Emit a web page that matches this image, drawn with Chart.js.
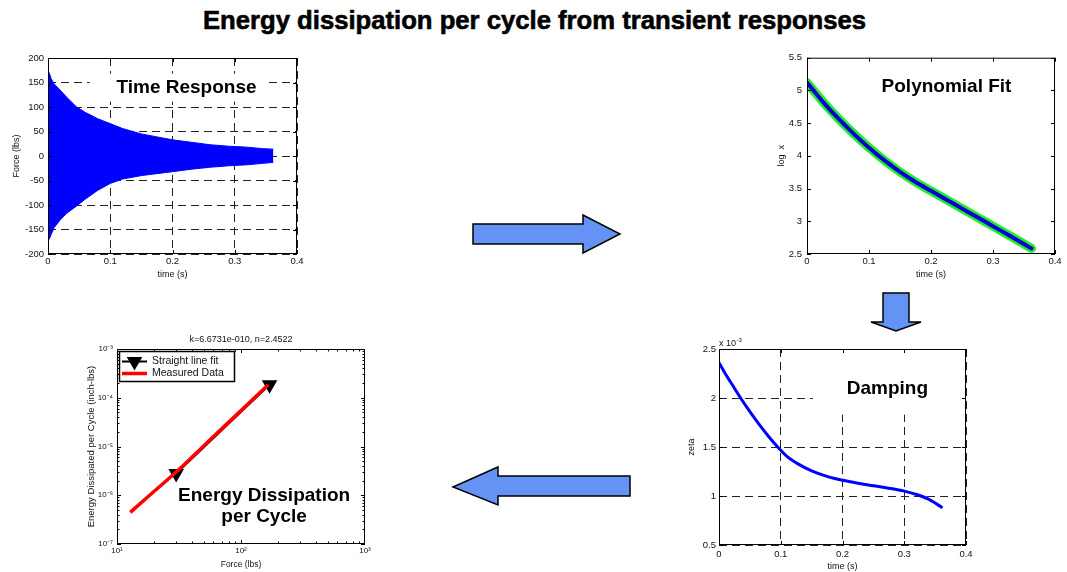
<!DOCTYPE html>
<html>
<head>
<meta charset="utf-8">
<script src="https://cdn.jsdelivr.net/npm/chart.js@4.4.1/dist/chart.umd.min.js"></script>
<style>
  html, body { margin: 0; padding: 0; background: #fff; }
  #page { position: relative; width: 1067px; height: 572px; overflow: hidden; font-family: 'Liberation Sans', Arial, sans-serif; }
  #title { position: absolute; left: 203px; top: 8px; white-space: nowrap; font-weight: bold; font-size: 25px; line-height: 25px; transform-origin: 0 0; color: #000; -webkit-text-stroke: 0.6px #000; }
  canvas { position: absolute; }
  svg { position: absolute; left: 0; top: 0; }
</style>
</head>
<body>
<div id="page">
  <svg width="1067" height="572">
    <g fill="#6593f5" stroke="#000" stroke-width="1.5" stroke-linejoin="miter">
      <polygon points="473,224 583,224 583,215 620,234 583,253 583,244 473,244"/>
      <polygon points="883,293 909,293 909,322 921,322 896,331 871,322 883,322"/>
      <polygon points="630,476 498,476 498,467 453,487 498,505 498,496 630,496"/>
    </g>
  </svg>
  <div id="title">Energy dissipation per cycle from transient responses</div>
  <canvas id="cResp"></canvas>
  <canvas id="cPoly"></canvas>
  <canvas id="cDamp"></canvas>
  <canvas id="cEnergy"></canvas>
</div>
<script>
// Time response envelope, force (lbs) vs time (s)
const respTime  = [0, 0.002, 0.005, 0.01, 0.02, 0.03, 0.045, 0.06, 0.08, 0.1, 0.12, 0.15, 0.175, 0.2, 0.23, 0.26, 0.29, 0.32, 0.345, 0.362];
const respUpper = [172, 170, 158, 147, 134, 120, 101, 89, 76, 66, 56, 45, 39, 33, 28, 23, 20, 18, 15, 14];
const respLower = [-172, -170, -160, -146, -130, -117, -103, -88, -70, -56, -47, -40, -36, -32, -27, -23, -20, -18, -15, -13];
const respTicksX = [0, 0.1, 0.2, 0.3, 0.4];
const respTicksY = [-200, -150, -100, -50, 0, 50, 100, 150, 200];

// Polynomial fit of log amplitude
const polyTime = [0, 0.01, 0.03, 0.05, 0.075, 0.1, 0.125, 0.15, 0.175, 0.2, 0.225, 0.25, 0.275, 0.3, 0.325, 0.345, 0.362];
const polyLogX = [5.12, 5.005, 4.78, 4.575, 4.34, 4.125, 3.93, 3.755, 3.6, 3.465, 3.33, 3.195, 3.06, 2.925, 2.79, 2.68, 2.585];
const polyTicksX = [0, 0.1, 0.2, 0.3, 0.4];
const polyTicksY = [2.5, 3, 3.5, 4, 4.5, 5, 5.5];

// Damping ratio, in units of 10^-3
const dampTime = [0, 0.01, 0.02, 0.035, 0.05, 0.065, 0.08, 0.095, 0.11, 0.13, 0.15, 0.175, 0.2, 0.225, 0.25, 0.275, 0.3, 0.32, 0.34, 0.362];
const dampZeta = [2.36, 2.25, 2.15, 2.0, 1.86, 1.73, 1.61, 1.5, 1.405, 1.32, 1.257, 1.2, 1.16, 1.13, 1.105, 1.08, 1.05, 1.015, 0.965, 0.88];
const dampTicksX = [0, 0.1, 0.2, 0.3, 0.4];
const dampTicksY = [0.5, 1, 1.5, 2, 2.5];

// Energy dissipated per cycle vs force amplitude (log-log)
const measForce  = [12.8, 17.5, 30, 60, 111, 166];
const measEnergy = [4.45e-7, 9.0e-7, 3.0e-6, 1.6e-5, 7.0e-5, 1.85e-4];
const fitForce   = [30, 170];
const fitEnergy  = [2.8e-6, 1.85e-4];
const forceTicks = [10, 100, 1000];
const forceTickLabels = ['10\u00B9', '10\u00B2', '10\u00B3'];
const energyTicks = [1e-7, 1e-6, 1e-5, 1e-4, 1e-3];
const energyTickLabels = ['10\u207B\u2077', '10\u207B\u2076', '10\u207B\u2075', '10\u207B\u2074', '10\u207B\u00B3'];
const energyTitle = 'k=6.6731e-010, n=2.4522';

const BLUE = '#0000ff';
const FONT = "'Liberation Sans', Arial, Helvetica, sans-serif";

// squeeze the heading to the width it has in the figure
const titleEl = document.getElementById('title');
titleEl.style.transform = 'scaleX(' + (663 / titleEl.scrollWidth) + ')';

function frame(id, plot, m) {
  const cv = document.getElementById(id);
  const w = m.yW + plot.w + m.right, h = m.top + plot.h + m.xH;
  cv.width = w; cv.height = h;
  cv.style.width = w + 'px'; cv.style.height = h + 'px';
  cv.style.left = (plot.x - m.yW) + 'px';
  cv.style.top = (plot.y - m.top) + 'px';
  return cv;
}

function xyData(xs, ys) {
  return xs.map((v, i) => ({ x: v, y: ys[i] }));
}

function axis(o) {
  return {
    type: o.type || 'linear',
    min: o.min, max: o.max,
    afterBuildTicks: s => { s.ticks = o.ticks.map(v => ({ value: v })); },
    afterFit: s => { if (s.isHorizontal()) s.height = o.size; else s.width = o.size; },
    grid: { display: !!o.grid, drawTicks: false, color: '#222', lineWidth: 1 },
    border: { display: false, dash: [8, 5] },
    ticks: {
      color: '#111', padding: o.pad, autoSkip: false, maxRotation: 0,
      font: { family: FONT, size: o.fontSize || 9.5 },
      callback: o.labels ? (v, i) => o.labels[i] : v => String(v)
    },
    title: { display: true, text: o.title, color: '#111', padding: 0, font: { family: FONT, size: o.titleSize || 9 } }
  };
}

function baseOptions(m, x, y) {
  return {
    responsive: false, animation: false, devicePixelRatio: 1,
    layout: { autoPadding: false, padding: { top: m.top, right: m.right, left: 0, bottom: 0 } },
    plugins: { legend: { display: false }, tooltip: { enabled: false } },
    scales: { x: axis(x), y: axis(y) }
  };
}

// MATLAB-looking box, inward ticks, white-backed labels
function axesPlugin(cfg) {
  return {
    id: 'matlabAxes',
    beforeDatasetsDraw(chart) {
      const { ctx, scales: { x, y } } = chart;
      ctx.save();
      ctx.fillStyle = '#fff';
      (cfg.masks || []).forEach(b => {
        const x0 = x.getPixelForValue(b.x0), x1 = x.getPixelForValue(b.x1);
        const y0 = y.getPixelForValue(b.y0), y1 = y.getPixelForValue(b.y1);
        ctx.fillRect(Math.min(x0, x1), Math.min(y0, y1), Math.abs(x1 - x0), Math.abs(y1 - y0));
      });
      ctx.fillStyle = '#000';
      ctx.font = 'bold 19px ' + FONT;
      ctx.textAlign = 'center';
      ctx.textBaseline = 'middle';
      (cfg.notes || []).forEach(n => {
        const cx = x.getPixelForValue(n.x), cy = y.getPixelForValue(n.y);
        n.lines.forEach((s, i) => ctx.fillText(s, cx, cy + (i - (n.lines.length - 1) / 2) * 21));
      });
      ctx.restore();
    },
    afterDatasetsDraw(chart) {
      const { ctx, chartArea: a, scales: { x, y } } = chart;
      const marks = sc => {
        const out = [];
        if (sc.type === 'logarithmic') {
          for (let d = Math.round(Math.log10(sc.min)); d < Math.round(Math.log10(sc.max)); d++) {
            for (let k = 1; k <= 9; k++) out.push({ p: sc.getPixelForValue(k * Math.pow(10, d)), len: k === 1 ? 4 : 2.5 });
          }
        } else {
          sc.ticks.forEach(t => out.push({ p: sc.getPixelForValue(t.value), len: 4 }));
        }
        return out;
      };
      ctx.save();
      ctx.strokeStyle = '#000';
      ctx.lineWidth = 1;
      ctx.beginPath();
      marks(x).forEach(t => {
        const p = Math.round(t.p) + 0.5;
        ctx.moveTo(p, a.bottom); ctx.lineTo(p, a.bottom - t.len);
        ctx.moveTo(p, a.top); ctx.lineTo(p, a.top + t.len);
      });
      marks(y).forEach(t => {
        const p = Math.round(t.p) + 0.5;
        ctx.moveTo(a.left, p); ctx.lineTo(a.left + t.len, p);
        ctx.moveTo(a.right, p); ctx.lineTo(a.right - t.len, p);
      });
      ctx.stroke();
      ctx.strokeRect(a.left + 0.5, a.top + 0.5, a.width - 1, a.height - 1);
      ctx.restore();
      if (cfg.extra) cfg.extra(chart);
    }
  };
}

// Time response
const respM = { yW: 37, xH: 26, top: 10, right: 12 };
new Chart(frame('cResp', { x: 48, y: 58, w: 249, h: 196 }, respM), {
  type: 'line',
  data: {
    datasets: [
      { label: 'upper', data: xyData(respTime, respUpper), borderColor: BLUE, backgroundColor: BLUE, borderWidth: 1, pointRadius: 0, fill: '+1' },
      { label: 'lower', data: xyData(respTime, respLower), borderColor: BLUE, backgroundColor: BLUE, borderWidth: 1, pointRadius: 0, fill: false }
    ]
  },
  options: baseOptions(respM,
    { min: 0, max: 0.4, ticks: respTicksX, size: respM.xH, pad: 2, grid: true, title: 'time (s)' },
    { min: -200, max: 200, ticks: respTicksY, size: respM.yW, pad: 4, grid: true, title: 'Force (lbs)' }),
  plugins: [axesPlugin({
    masks: [{ x0: 0.067, x1: 0.352, y0: 111, y1: 168 }],
    notes: [{ x: 0.2225, y: 140, lines: ['Time Response'] }]
  })]
});

// Polynomial fit
const polyM = { yW: 31, xH: 26, top: 10, right: 12 };
new Chart(frame('cPoly', { x: 807, y: 57, w: 248, h: 197 }, polyM), {
  type: 'line',
  data: {
    datasets: [
      { label: 'fit', data: xyData(polyTime, polyLogX), borderColor: '#0000dd', borderWidth: 4, pointRadius: 0,
        cubicInterpolationMode: 'monotone', borderCapStyle: 'round', borderJoinStyle: 'round', order: 1 },
      { label: 'data', data: xyData(polyTime, polyLogX), borderColor: '#22ee22', borderWidth: 9, pointRadius: 0,
        cubicInterpolationMode: 'monotone', borderCapStyle: 'round', borderJoinStyle: 'round', order: 2 }
    ]
  },
  options: baseOptions(polyM,
    { min: 0, max: 0.4, ticks: polyTicksX, size: polyM.xH, pad: 2, title: 'time (s)' },
    { min: 2.5, max: 5.5, ticks: polyTicksY, size: polyM.yW, pad: 5, title: 'log  x' }),
  plugins: [axesPlugin({
    notes: [{ x: 0.225, y: 5.05, lines: ['Polynomial Fit'] }]
  })]
});

// Damping
const dampM = { yW: 33, xH: 27, top: 16, right: 12 };
new Chart(frame('cDamp', { x: 719, y: 349, w: 247, h: 196 }, dampM), {
  type: 'line',
  data: {
    datasets: [
      { label: 'zeta', data: xyData(dampTime, dampZeta), borderColor: BLUE, borderWidth: 3, pointRadius: 0, cubicInterpolationMode: 'monotone' }
    ]
  },
  options: baseOptions(dampM,
    { min: 0, max: 0.4, ticks: dampTicksX, size: dampM.xH, pad: 4, grid: true, title: 'time (s)' },
    { min: 0.5, max: 2.5, ticks: dampTicksY, size: dampM.yW, pad: 3, grid: true, title: 'zeta' }),
  plugins: [axesPlugin({
    masks: [{ x0: 0.152, x1: 0.395, y0: 2.5, y1: 1.83 }],
    notes: [{ x: 0.2727, y: 2.094, lines: ['Damping'] }],
    extra(chart) {
      const { ctx, chartArea: a } = chart;
      ctx.save();
      ctx.fillStyle = '#111';
      ctx.textAlign = 'left';
      ctx.textBaseline = 'alphabetic';
      ctx.font = '9px ' + FONT;
      ctx.fillText('x 10', a.left, a.top - 3);
      const w = ctx.measureText('x 10').width;
      ctx.font = '6px ' + FONT;
      ctx.fillText('-3', a.left + w + 0.5, a.top - 7);
      ctx.restore();
    }
  })]
});

// Energy dissipation per cycle
const energyM = { yW: 31, xH: 26, top: 18, right: 12 };
new Chart(frame('cEnergy', { x: 117, y: 349, w: 248, h: 195 }, energyM), {
  type: 'line',
  data: {
    datasets: [
      { label: 'Straight line fit', data: xyData(fitForce, fitEnergy), borderColor: '#000', borderWidth: 2,
        pointStyle: 'triangle', pointRotation: 180, pointRadius: 7, pointBackgroundColor: '#000', pointBorderColor: '#000', order: 2 },
      { label: 'Measured Data', data: xyData(measForce, measEnergy), borderColor: '#ff0000', borderWidth: 3.5, pointRadius: 0,
        cubicInterpolationMode: 'monotone', order: 1 }
    ]
  },
  options: baseOptions(energyM,
    { type: 'logarithmic', min: 10, max: 1000, ticks: forceTicks, labels: forceTickLabels, size: energyM.xH, pad: 2, fontSize: 8, titleSize: 8.5, title: 'Force (lbs)' },
    { type: 'logarithmic', min: 1e-7, max: 1e-3, ticks: energyTicks, labels: energyTickLabels, size: energyM.yW, pad: 4, fontSize: 8, titleSize: 9.5, title: 'Energy Dissipated per Cycle (inch-lbs)' }),
  plugins: [axesPlugin({
    notes: [{ x: 153.5, y: 5.96e-7, lines: ['Energy Dissipation', 'per Cycle'] }],
    extra(chart) {
      const { ctx, chartArea: a } = chart;
      ctx.save();
      ctx.fillStyle = '#111';
      ctx.font = '9px ' + FONT;
      ctx.textAlign = 'center';
      ctx.textBaseline = 'middle';
      ctx.fillText(energyTitle, (a.left + a.right) / 2, a.top - 9);
      // legend box
      const lx = a.left + 2.5, ly = a.top + 2.5, lw = 115, lh = 30;
      ctx.fillStyle = '#fff';
      ctx.fillRect(lx, ly, lw, lh);
      ctx.strokeStyle = '#000';
      ctx.lineWidth = 1.5;
      ctx.strokeRect(lx, ly, lw, lh);
      chart.data.datasets.forEach((ds, i) => {
        const ry = a.top + 12.5 + i * 12;
        ctx.strokeStyle = ds.borderColor;
        ctx.lineWidth = ds.borderWidth;
        ctx.beginPath();
        ctx.moveTo(a.left + 5, ry);
        ctx.lineTo(a.left + 30, ry);
        ctx.stroke();
        if (ds.pointRadius) {
          Chart.helpers.drawPoint(ctx, { pointStyle: 'triangle', rotation: 180, radius: ds.pointRadius, borderWidth: 1 }, a.left + 17.5, ry);
          ctx.fillStyle = '#000';
          ctx.fill();
        }
        ctx.fillStyle = '#111';
        ctx.font = '10.5px ' + FONT;
        ctx.textAlign = 'left';
        ctx.fillText(ds.label, a.left + 35, ry);
      });
      ctx.restore();
    }
  })]
});
</script>
</body>
</html>
